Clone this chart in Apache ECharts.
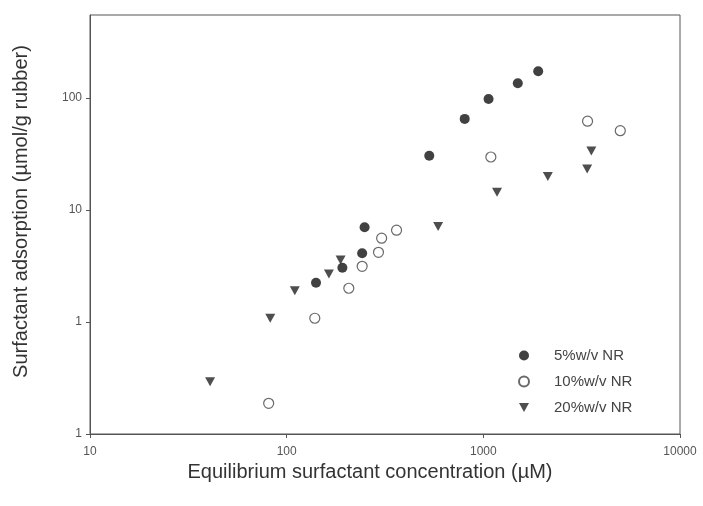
<!DOCTYPE html>
<html>
<head>
<meta charset="utf-8">
<script src="https://cdn.jsdelivr.net/npm/echarts@6/dist/echarts.min.js"></script>
<style>html,body{margin:0;padding:0;background:#fff}#c{width:703px;height:506px}</style>
</head>
<body>
<div id="c"></div>
<script>
// Series data [concentration (µM), adsorption (µmol/g rubber)]
var nr5 = [[141,2.24],[192,3.05],[242,4.1],[249,7.0],[531,30.5],[804,65],[1063,98],[1497,135],[1901,173]];
var nr10 = [[81,0.188],[139,1.08],[207,2.0],[242,3.14],[293,4.19],[304,5.6],[362,6.6],[1092,29.7],[3388,62],[4970,51]];
var nr20 = [[40.8,0.293],[82.5,1.08],[110,1.9],[164,2.68],[188,3.58],[589,7.1],[1174,14.4],[2128,19.9],[3373,23.2],[3542,33.6]];
var seriesNames = ['5%w/v NR','10%w/v NR','20%w/v NR'];
var xTickValues = [10,100,1000,10000];
var xTickLabels = ['10','100','1000','10000'];
var yTickValues = [0.1,1,10,100];
var yTickLabels = ['1','1','10','100'];

function fmt(vals, labels){
  return function(v){
    for (var i=0;i<vals.length;i++){ if (Math.abs(Math.log10(v)-Math.log10(vals[i]))<1e-6) return labels[i]; }
    return '';
  };
}
var chart = echarts.init(document.getElementById('c'));
var tri = 'path://M0,0 L10,0 L5,9 Z';
var FF = 'Liberation Sans, Arial, sans-serif';
chart.setOption({
  animation:false,
  backgroundColor:'#fff',
  grid:{left:90,right:23,top:15,bottom:72,show:true,borderColor:'#555',borderWidth:1},
  xAxis:{type:'log',logBase:10,min:10,max:10000,
    name:'Equilibrium surfactant concentration (µM)',nameLocation:'middle',nameGap:23,
    nameTextStyle:{fontFamily:FF,fontSize:20,color:'#333',padding:[0,30,0,0]},
    axisLine:{lineStyle:{color:'#555',width:1}},
    axisTick:{show:true,length:4,lineStyle:{color:'#555'},customValues:xTickValues},
    axisLabel:{fontFamily:FF,fontSize:12,color:'#555',margin:12,customValues:xTickValues,formatter:fmt(xTickValues,xTickLabels)},
    splitLine:{show:false},minorTick:{show:false}},
  yAxis:{type:'log',logBase:10,min:0.1,max:550,
    name:'Surfactant adsorption (µmol/g rubber)',nameLocation:'middle',nameGap:59,
    nameTextStyle:{fontFamily:FF,fontSize:20,color:'#333',padding:[0,0,0,26]},
    axisLine:{lineStyle:{color:'#555',width:1}},
    axisTick:{show:true,length:4,lineStyle:{color:'#555'},customValues:yTickValues},
    axisLabel:{fontFamily:FF,fontSize:12,color:'#555',margin:8,customValues:yTickValues,formatter:fmt(yTickValues,yTickLabels)},
    splitLine:{show:false}},
  legend:{orient:'vertical',left:513,top:343,itemWidth:10,itemHeight:10,itemGap:11,
    textStyle:{fontFamily:FF,fontSize:15,color:'#444',padding:[0,0,0,20]},
    data:seriesNames},
  series:[
    {name:seriesNames[0],type:'scatter',data:nr5,symbol:'circle',symbolSize:10,itemStyle:{color:'#111'}},
    {name:seriesNames[1],type:'scatter',data:nr10,symbol:'circle',symbolSize:10,itemStyle:{color:'#fff',borderColor:'#444',borderWidth:1.2}},
    {name:seriesNames[2],type:'scatter',data:nr20,symbol:tri,symbolSize:[10,9],itemStyle:{color:'#222'}}
  ]
});
</script>
</body>
</html>
